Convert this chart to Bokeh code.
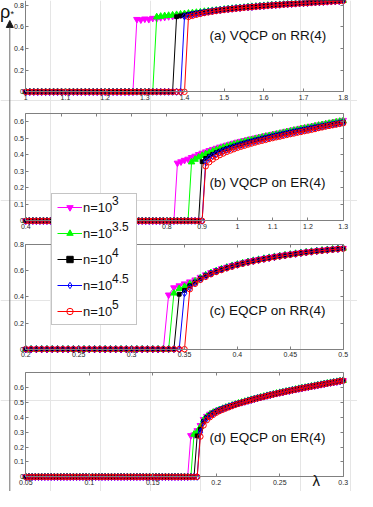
import numpy as np
from bokeh.plotting import figure
from bokeh.models import (Range1d, LinearAxis, FixedTicker, CustomJSTickFormatter,
                          Legend, LegendItem, Label, Arrow, NormalHead)
from bokeh.embed import file_html
from bokeh.resources import INLINE

# ---------------- data ----------------
series_names = ["n=10", "n=10", "n=10", "n=10", "n=10"]
series_exponents = ["3", "3.5", "4", "4.5", "5"]

# (a) VQCP on RR(4): lambda grid 1.00 .. 1.80 step 0.01
xa = np.round(np.linspace(1.0, 1.8, 81), 4)
a_zeros = [28, 33, 38, 40, 41]
a_n30 = [0.668, 0.664, 0.672, 0.668, 0.678, 0.676, 0.685, 0.688, 0.694, 0.697,
         0.703, 0.707, 0.712,
         0.717, 0.722, 0.727, 0.732, 0.737, 0.742, 0.747, 0.751, 0.756, 0.760,
         0.764, 0.768, 0.772, 0.775, 0.779, 0.782, 0.785, 0.788, 0.791, 0.794,
         0.797, 0.800, 0.802, 0.805, 0.807, 0.810, 0.812, 0.815, 0.817, 0.819,
         0.821, 0.824, 0.826, 0.828, 0.830, 0.832, 0.834, 0.836, 0.838, 0.840]
a_n35 = [0.690, 0.695, 0.700, 0.703, 0.707, 0.711, 0.715, 0.719,
         0.723, 0.727, 0.731, 0.735, 0.740, 0.744, 0.748, 0.752, 0.756, 0.760,
         0.764, 0.768, 0.771, 0.775, 0.778, 0.782, 0.785, 0.788, 0.791, 0.794,
         0.797, 0.800, 0.802, 0.805, 0.807, 0.810, 0.812, 0.815, 0.817, 0.819,
         0.822, 0.824, 0.826, 0.828, 0.831, 0.833, 0.835, 0.837, 0.839, 0.841]
a_n40 = [0.692, 0.700, 0.707,
         0.713, 0.719, 0.725, 0.731, 0.736, 0.741, 0.746, 0.751, 0.755, 0.759,
         0.763, 0.767, 0.771, 0.774, 0.778, 0.781, 0.784, 0.787, 0.790, 0.793,
         0.796, 0.799, 0.801, 0.804, 0.806, 0.809, 0.811, 0.814, 0.816, 0.818,
         0.821, 0.823, 0.825, 0.827, 0.830, 0.832, 0.834, 0.836, 0.838, 0.840]
a_n45 = [0.695,
         0.705, 0.712, 0.719, 0.726, 0.732, 0.738, 0.744, 0.749, 0.754, 0.758,
         0.762, 0.766, 0.770, 0.773, 0.777, 0.780, 0.783, 0.786, 0.789, 0.792,
         0.795, 0.798, 0.801, 0.803, 0.806, 0.808, 0.811, 0.813, 0.816, 0.818,
         0.820, 0.823, 0.825, 0.827, 0.829, 0.832, 0.834, 0.836, 0.838, 0.840]
a_n50 = [0.690, 0.700, 0.710, 0.718, 0.726, 0.733, 0.739, 0.745, 0.750, 0.755,
         0.759, 0.763, 0.767, 0.771, 0.775, 0.778, 0.781, 0.784, 0.787, 0.790,
         0.793, 0.796, 0.799, 0.801, 0.804, 0.806, 0.809, 0.811, 0.814, 0.816,
         0.818, 0.821, 0.823, 0.825, 0.827, 0.830, 0.832, 0.834, 0.836, 0.838]
a_xticks = [1.0, 1.1, 1.2, 1.3, 1.4, 1.5, 1.6, 1.7, 1.8]
a_yticks = [0, 0.2, 0.4, 0.6, 0.8]

# (b) VQCP on ER(4): lambda grid 0.40 .. 1.30 step 0.01
xb = np.round(np.linspace(0.4, 1.3, 91), 4)
b_zeros = [43, 47, 50, 51, 51]
b_n30 = [0.350, 0.358, 0.367, 0.374, 0.384, 0.392, 0.402, 0.410, 0.418, 0.426,
         0.433, 0.440, 0.447, 0.453, 0.459, 0.465, 0.471, 0.477, 0.482, 0.487,
         0.492, 0.497, 0.502, 0.507, 0.511, 0.516, 0.520, 0.525, 0.529, 0.533,
         0.538, 0.543, 0.547, 0.552, 0.556, 0.561, 0.565, 0.569, 0.573, 0.577,
         0.581, 0.585, 0.589, 0.593, 0.597, 0.601, 0.605, 0.609]
b_n35 = [0.356, 0.372, 0.385, 0.395, 0.405, 0.414,
         0.422, 0.430, 0.437, 0.444, 0.451, 0.457, 0.463, 0.469, 0.475, 0.480,
         0.486, 0.491, 0.496, 0.501, 0.506, 0.511, 0.515, 0.520, 0.524, 0.529,
         0.534, 0.539, 0.543, 0.548, 0.552, 0.557, 0.561, 0.565, 0.569, 0.574,
         0.578, 0.582, 0.586, 0.590, 0.594, 0.598, 0.602, 0.606]
b_n40 = [0.358, 0.378, 0.392,
         0.403, 0.413, 0.422, 0.430, 0.438, 0.445, 0.452, 0.458, 0.465, 0.471,
         0.477, 0.482, 0.488, 0.493, 0.498, 0.503, 0.508, 0.513, 0.517, 0.522,
         0.527, 0.531, 0.536, 0.540, 0.545, 0.549, 0.553, 0.558, 0.562, 0.566,
         0.570, 0.574, 0.578, 0.582, 0.586, 0.590, 0.594, 0.598]
b_n45 = [0.360, 0.380,
         0.393, 0.404, 0.414, 0.423, 0.431, 0.439, 0.446, 0.453, 0.460, 0.466,
         0.472, 0.478, 0.484, 0.489, 0.495, 0.500, 0.505, 0.510, 0.515, 0.519,
         0.524, 0.529, 0.533, 0.538, 0.542, 0.547, 0.551, 0.555, 0.560, 0.564,
         0.568, 0.572, 0.576, 0.580, 0.584, 0.588, 0.592, 0.596]
b_n50 = [0.330, 0.355,
         0.372, 0.386, 0.398, 0.408, 0.418, 0.426, 0.434, 0.442, 0.449, 0.455,
         0.462, 0.468, 0.474, 0.480, 0.485, 0.490, 0.496, 0.501, 0.506, 0.510,
         0.515, 0.520, 0.525, 0.529, 0.534, 0.538, 0.543, 0.547, 0.551, 0.556,
         0.562, 0.566, 0.571, 0.575, 0.579, 0.583, 0.587, 0.591]
b_xticks = [0.4, 0.5, 0.6, 0.7, 0.8, 0.9, 1.0, 1.1, 1.2, 1.3]
b_yticks = [0, 0.1, 0.2, 0.3, 0.4, 0.5, 0.6]

# (c) EQCP on RR(4): lambda grid 0.200 .. 0.500 step 0.005
xc = np.round(np.linspace(0.2, 0.5, 61), 4)
c_zeros = [27, 28, 29, 30, 31]
c_n30 = [0.415, 0.470, 0.485, 0.500, 0.515,
         0.530, 0.550, 0.569, 0.586, 0.601, 0.615, 0.627, 0.639, 0.650,
         0.660, 0.669, 0.678, 0.686, 0.693, 0.700, 0.707, 0.714, 0.720, 0.726,
         0.731, 0.737, 0.742, 0.747, 0.752, 0.756, 0.760, 0.764, 0.768, 0.771]
c_n35 = [0.428, 0.462, 0.478, 0.500,
         0.520, 0.545, 0.566, 0.584, 0.599, 0.613, 0.626, 0.638, 0.649,
         0.659, 0.668, 0.677, 0.685, 0.693, 0.700, 0.707, 0.713, 0.719, 0.725,
         0.731, 0.736, 0.742, 0.747, 0.751, 0.756, 0.760, 0.764, 0.768, 0.771]
c_n40 = [0.420, 0.450, 0.485,
         0.512, 0.540, 0.562, 0.581, 0.597, 0.611, 0.624, 0.636, 0.647,
         0.657, 0.666, 0.675, 0.683, 0.691, 0.698, 0.705, 0.712, 0.718, 0.724,
         0.730, 0.735, 0.741, 0.746, 0.750, 0.755, 0.759, 0.763, 0.767, 0.770]
c_n45 = [0.428, 0.470,
         0.505, 0.535, 0.558, 0.578, 0.594, 0.609, 0.622, 0.634, 0.645,
         0.655, 0.665, 0.674, 0.682, 0.690, 0.697, 0.704, 0.711, 0.717, 0.723,
         0.729, 0.735, 0.740, 0.745, 0.750, 0.754, 0.758, 0.762, 0.766, 0.770]
c_n50 = [0.458, 0.500, 0.530, 0.553, 0.573, 0.590, 0.605, 0.619, 0.631, 0.643,
         0.653, 0.663, 0.672, 0.680, 0.688, 0.696, 0.703, 0.710, 0.716, 0.722,
         0.728, 0.734, 0.739, 0.744, 0.749, 0.753, 0.757, 0.761, 0.765, 0.768]
c_xticks = [0.2, 0.25, 0.3, 0.35, 0.4, 0.45, 0.5]
c_yticks = [0, 0.2, 0.4, 0.6, 0.8]

# (d) EQCP on ER(4): lambda grid 0.0500 .. 0.3000 step 0.0025
xd = np.round(np.linspace(0.05, 0.3, 101), 5)
d_zeros = [52, 53, 54, 55, 55]
d_n30 = [0.277, 0.282, 0.310, 0.345,
         0.385, 0.406, 0.421, 0.433, 0.443, 0.451, 0.459, 0.467, 0.474, 0.481,
         0.488, 0.494, 0.500, 0.506, 0.512, 0.518, 0.524, 0.530, 0.535, 0.540,
         0.545, 0.550, 0.555, 0.560, 0.565, 0.569, 0.574, 0.578, 0.583, 0.587,
         0.592, 0.596, 0.600, 0.604, 0.608, 0.612, 0.616, 0.620, 0.624, 0.628,
         0.632, 0.635, 0.639, 0.643, 0.646]
d_n35 = [0.285, 0.300, 0.335,
         0.380, 0.403, 0.419, 0.431, 0.441, 0.450, 0.458, 0.466, 0.473, 0.480,
         0.487, 0.494, 0.500, 0.506, 0.512, 0.518, 0.524, 0.529, 0.535, 0.540,
         0.545, 0.550, 0.555, 0.560, 0.565, 0.569, 0.574, 0.578, 0.583, 0.587,
         0.592, 0.596, 0.600, 0.604, 0.608, 0.612, 0.616, 0.620, 0.624, 0.628,
         0.632, 0.635, 0.639, 0.643, 0.646]
d_n40 = [0.275, 0.320,
         0.372, 0.398, 0.415, 0.428, 0.439, 0.448, 0.457, 0.465, 0.472, 0.479,
         0.486, 0.493, 0.499, 0.505, 0.511, 0.517, 0.523, 0.528, 0.534, 0.539,
         0.544, 0.549, 0.554, 0.559, 0.564, 0.569, 0.573, 0.578, 0.582, 0.587,
         0.591, 0.595, 0.600, 0.604, 0.608, 0.612, 0.616, 0.620, 0.624, 0.628,
         0.631, 0.635, 0.639, 0.643, 0.646]
d_n45 = [0.300,
         0.365, 0.392, 0.410, 0.424, 0.436, 0.446, 0.455, 0.463, 0.471, 0.478,
         0.485, 0.492, 0.498, 0.504, 0.510, 0.516, 0.522, 0.528, 0.533, 0.538,
         0.544, 0.549, 0.554, 0.559, 0.564, 0.568, 0.573, 0.577, 0.582, 0.586,
         0.591, 0.595, 0.599, 0.603, 0.607, 0.611, 0.615, 0.619, 0.623, 0.627,
         0.631, 0.635, 0.638, 0.642, 0.646]
d_n50 = [0.270,
         0.345, 0.380, 0.400, 0.416, 0.430, 0.441, 0.450, 0.459, 0.467, 0.475,
         0.483, 0.490, 0.497, 0.503, 0.509, 0.515, 0.521, 0.527, 0.532, 0.537,
         0.543, 0.548, 0.553, 0.558, 0.563, 0.567, 0.572, 0.576, 0.581, 0.585,
         0.590, 0.594, 0.598, 0.602, 0.606, 0.610, 0.614, 0.618, 0.622, 0.626,
         0.630, 0.634, 0.638, 0.642, 0.645]
d_xticks = [0.05, 0.1, 0.15, 0.2, 0.25, 0.3]
d_yticks = [0, 0.1, 0.2, 0.3, 0.4, 0.5, 0.6]

panel_titles = ["(a) VQCP on RR(4)", "(b) VQCP on ER(4)",
                "(c) EQCP on RR(4)", "(d) EQCP on ER(4)"]

# ---------------- layout / style ----------------
W, H = 357, 491
FL, FR = 25.3, 342.7          # frame left / right in canvas px
FONT = "Liberation Sans"

styles = [
    dict(color="#ff00ff", marker="inverted_triangle", size=6.5, fill="#ff00ff"),
    dict(color="#00ff00", marker="triangle", size=6.5, fill="#00ff00"),
    dict(color="#000000", marker="square", size=3.8, fill="#000000"),
    dict(color="#0000ff", marker="diamond", size=7, fill=None),
    dict(color="#ff0000", marker="circle", size=5.5, fill=None),
]

panels = [
    dict(k="a", x=xa, ups=[a_n30, a_n35, a_n40, a_n45, a_n50], zeros=a_zeros,
         xlim=(1.0, 1.8), ylim=(0.0, 0.9), ymap=(91.3, 4.5, 0.8),
         xt=a_xticks, yt=a_yticks, hide=[], title_y=35, top=False),
    dict(k="b", x=xb, ups=[b_n30, b_n35, b_n40, b_n45, b_n50], zeros=b_zeros,
         xlim=(0.4, 1.3), ylim=(0.0, 0.65), ymap=(220.3, 113.0, 0.65),
         xt=b_xticks, yt=b_yticks, hide=[0.5, 0.6, 0.7], title_y=182, top=True),
    dict(k="c", x=xc, ups=[c_n30, c_n35, c_n40, c_n45, c_n50], zeros=c_zeros,
         xlim=(0.2, 0.5), ylim=(0.0, 0.8), ymap=(348.7, 244.0, 0.8),
         xt=c_xticks, yt=c_yticks, hide=[], title_y=310, top=True),
    dict(k="d", x=xd, ups=[d_n30, d_n35, d_n40, d_n45, d_n50], zeros=d_zeros,
         xlim=(0.05, 0.3), ylim=(0.0, 0.7), ymap=(476.3, 372.0, 0.7),
         xt=d_xticks, yt=d_yticks, hide=[], title_y=437, top=True),
]

p = figure(width=W, height=H, output_backend="svg", toolbar_location=None,
           x_range=Range1d(0, W), y_range=Range1d(H, 0),
           x_axis_location=None, y_axis_location=None, min_border=0,
           background_fill_color="white", border_fill_color="white")
p.outline_line_color = None

extra_x, extra_y = {}, {}
for pn in panels:
    x0, x1 = pn["xlim"]
    s = (FR - FL) / (x1 - x0)
    extra_x["x" + pn["k"]] = Range1d(x0 - FL / s, x1 + (W - FR) / s)
    py0, py1, v1 = pn["ymap"]
    sy = (py0 - py1) / v1
    extra_y["y" + pn["k"]] = Range1d(0 - (H - py0) / sy, py0 / sy)
p.extra_x_ranges = extra_x
p.extra_y_ranges = extra_y


def style_axis(ax, labels):
    ax.axis_line_color = "#808080"
    ax.axis_line_width = 1
    ax.major_tick_line_color = "#808080"
    ax.major_tick_in = 3
    ax.major_tick_out = 0
    ax.minor_tick_line_color = None
    ax.major_label_text_font = FONT
    ax.major_label_text_font_size = "7px"
    ax.major_label_text_color = "#262626" if labels else None


legend_items = []
for pn in panels:
    k = pn["k"]
    rn = dict(x_range_name="x" + k, y_range_name="y" + k)
    x0, x1 = pn["xlim"]
    y0, y1 = pn["ylim"]
    fmt = CustomJSTickFormatter(args=dict(hide=pn["hide"]),
                                code="return hide.includes(tick) ? '' : String(tick)")
    # bottom
    ax = LinearAxis(fixed_location=y0, bounds=(x0, x1),
                    ticker=FixedTicker(ticks=pn["xt"]), formatter=fmt, **rn)
    style_axis(ax, True)
    ax.major_label_standoff = 3
    p.add_layout(ax, "below")
    # left
    ax = LinearAxis(fixed_location=x0, bounds=(y0, y1),
                    ticker=FixedTicker(ticks=pn["yt"]),
                    formatter=CustomJSTickFormatter(code="return String(tick)"), **rn)
    style_axis(ax, True)
    ax.major_label_standoff = 2
    p.add_layout(ax, "left")
    # right
    ax = LinearAxis(fixed_location=x1, bounds=(y0, y1),
                    ticker=FixedTicker(ticks=pn["yt"]), **rn)
    style_axis(ax, False)
    p.add_layout(ax, "right")
    # top
    if pn["top"]:
        ax = LinearAxis(fixed_location=y1, bounds=(x0, x1),
                        ticker=FixedTicker(ticks=pn["xt"]), **rn)
        style_axis(ax, False)
        p.add_layout(ax, "above")

    for i, (up, nz, st) in enumerate(zip(pn["ups"], pn["zeros"], styles)):
        y = [0.0] * nz + list(up)
        x = list(pn["x"][:len(y)])
        lr = p.line(x, y, line_color=st["color"], line_width=1, **rn)
        sr = p.scatter(x, y, marker=st["marker"], size=st["size"],
                       line_color=st["color"], line_width=1,
                       fill_color=st["fill"], **rn)
        if k == "c":
            legend_items.append(LegendItem(label=series_names[i], renderers=[lr, sr]))

    p.add_layout(Label(x=209, y=pn["title_y"], text=panel_titles["abcd".index(k)],
                       text_font=FONT, text_font_size="13.5px",
                       text_baseline="middle", text_color="#111111"))

# main legend (box, glyphs, "n=10")
LEG_TOP, LEG_BOT = 195, 325
GH, SP, PAD = 16, 10, 5
legend = Legend(items=legend_items, location=(51, H - LEG_BOT), margin=0,
                padding=PAD, spacing=SP, glyph_width=25, glyph_height=GH,
                label_standoff=1, label_width=48, label_height=GH,
                label_text_font=FONT, label_text_font_size="13px",
                label_text_baseline="middle", label_text_color="#111111",
                border_line_color="#8a8a8a", border_line_width=1,
                background_fill_color="white", background_fill_alpha=1.0)
p.add_layout(legend, "center")

# exponent overlay legend (transparent, invisible glyphs)
dummy = p.scatter(x=[], y=[], size=0, fill_alpha=0, line_alpha=0)
sup_items = [LegendItem(label=ex, renderers=[dummy]) for ex in series_exponents]
first_center = LEG_TOP + PAD + GH / 2
sup_top = first_center - 7.5 - GH / 2
sup_h = 5 * GH + 4 * SP
sup_legend = Legend(items=sup_items, location=(111.0, H - (sup_top + sup_h)), margin=0,
                    padding=0, spacing=SP, glyph_width=1, glyph_height=GH,
                    label_standoff=0, label_height=GH,
                    label_text_font=FONT, label_text_font_size="12px",
                    label_text_baseline="middle", label_text_color="#111111",
                    border_line_color=None, background_fill_alpha=0.0)
p.add_layout(sup_legend, "center")

# left vertical arrow (rho axis) and symbols
p.add_layout(Arrow(x_start=9.3, y_start=H, x_end=9.3, y_end=20,
                   line_color="#707070", line_width=1,
                   end=NormalHead(size=7, fill_color="#1a1a1a", line_color="#1a1a1a")))
p.add_layout(Label(x=-0.5, y=11, text="ρ", text_font=FONT, text_font_size="18px",
                   text_baseline="alphabetic", text_color="#111111"))
p.add_layout(Label(x=10, y=13, text="*", text_font=FONT, text_font_size="9px",
                   text_baseline="middle", text_color="#111111"))
p.add_layout(Label(x=312, y=480, text="λ", text_font=FONT, text_font_size="15px",
                   text_baseline="middle", text_color="#111111"))

open("out.html", "w").write(file_html(p, INLINE))
